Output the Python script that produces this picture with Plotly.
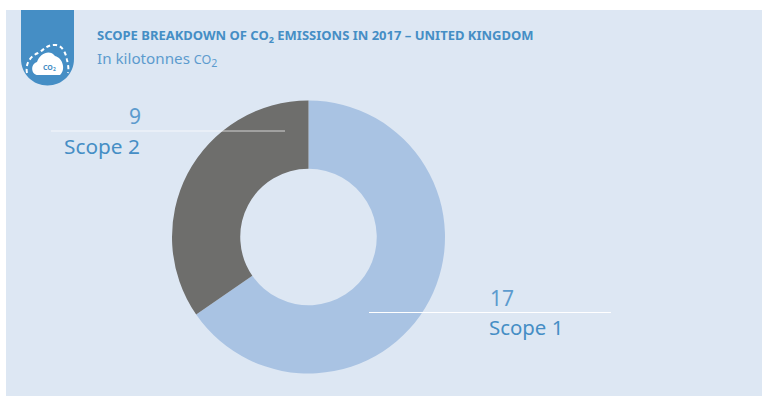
import plotly.graph_objects as go

W, H = 762, 396

# Chart data
scopes = ["Scope 1", "Scope 2"]
emissions = [17, 9]
slice_colors = ["#A9C3E3", "#6E6E6C"]

PANEL = "#DDE7F3"
BLUE = "#458EC5"
SOFT_BLUE = "#5C9BCE"
FONT = "Noto Sans"


def px(x):
    return x / W


def py(y):
    return 1 - y / H


cx, cy, r = 308.5, 237, 136.5

fig = go.Figure(
    go.Pie(
        labels=scopes,
        values=emissions,
        hole=0.5,
        sort=False,
        direction="clockwise",
        rotation=0,
        textinfo="none",
        hoverinfo="label+value",
        marker=dict(colors=slice_colors, line=dict(width=0)),
        domain=dict(x=[px(cx - r), px(cx + r)], y=[py(cy + r), py(cy - r)]),
    )
)


def label(x, y, text, size, color=BLUE, bold=False, anchor="left"):
    body = f"<b>{text}</b>" if bold else text
    return dict(
        x=px(x), y=py(y), xref="paper", yref="paper", text=body, showarrow=False,
        xanchor=anchor, yanchor="middle", align=anchor,
        font=dict(family=FONT, size=size, color=color),
    )


annotations = [
    label(95, 35.5, "SCOPE BREAKDOWN OF CO<sub>2</sub> EMISSIONS IN 2017 – UNITED KINGDOM", 13, bold=True),
    label(95, 59, 'In kilotonnes <span style="font-size:12.5px">CO</span><sub>2</sub>', 15.2, color=SOFT_BLUE),
    label(142.5, 115.5, str(emissions[1]), 21, color=SOFT_BLUE, anchor="right"),
    label(62, 145.5, scopes[1], 20.8),
    label(488, 297.5, str(emissions[0]), 21, color=SOFT_BLUE),
    label(487, 326.5, scopes[0], 20.4),
    label(49, 67, "CO<sub>2</sub>", 7, bold=True, anchor="center"),
]

# Header tab with rounded bottom, cloud badge and leader lines, all placed in page pixels
tab = (
    f"M {px(21)} {py(10)} L {px(74)} {py(10)} L {px(74)} {py(59)} "
    f"C {px(74)} {py(74)} {px(62)} {py(85.5)} {px(47.5)} {py(85.5)} "
    f"C {px(33)} {py(85.5)} {px(21)} {py(74)} {px(21)} {py(59)} Z"
)
cloud = (
    f"M {px(38)} {py(75)} C {px(31)} {py(75)} {px(30)} {py(64)} {px(37)} {py(62)} "
    f"C {px(40)} {py(53)} {px(50)} {py(49)} {px(55)} {py(56)} "
    f"C {px(63)} {py(58)} {px(66)} {py(70)} {px(60)} {py(75)} Z"
)
halo = (
    f"M {px(27)} {py(73)} C {px(25)} {py(63)} {px(31)} {py(56)} {px(38)} {py(53)} "
    f"C {px(44)} {py(50)} {px(47)} {py(44)} {px(56)} {py(45)} "
    f"C {px(63)} {py(46)} {px(66)} {py(54)} {px(67)} {py(60)} "
    f"C {px(68)} {py(64)} {px(69)} {py(69)} {px(68)} {py(73)}"
)


def rule(x0, x1, y, color):
    return dict(type="line", xref="paper", yref="paper", x0=px(x0), x1=px(x1),
                y0=py(y), y1=py(y), line=dict(color=color, width=1))


shapes = [
    dict(type="rect", xref="paper", yref="paper", x0=px(6), x1=1, y0=0, y1=py(10),
         fillcolor=PANEL, line=dict(width=0), layer="below"),
    dict(type="path", xref="paper", yref="paper", path=tab, fillcolor=BLUE, line=dict(width=0)),
    dict(type="path", xref="paper", yref="paper", path=cloud, fillcolor="white", line=dict(width=0)),
    dict(type="path", xref="paper", yref="paper", path=halo,
         line=dict(color="white", width=2, dash="4px,3px")),
    rule(51, 285, 131, "rgba(255,255,255,0.7)"),
    rule(369, 611, 312.5, "white"),
]

fig.update_layout(
    width=W, height=H, margin=dict(l=0, r=0, t=0, b=0),
    paper_bgcolor="white", showlegend=False,
    annotations=annotations, shapes=shapes,
)

fig.write_html("out.html", config=dict(displayModeBar=False))
